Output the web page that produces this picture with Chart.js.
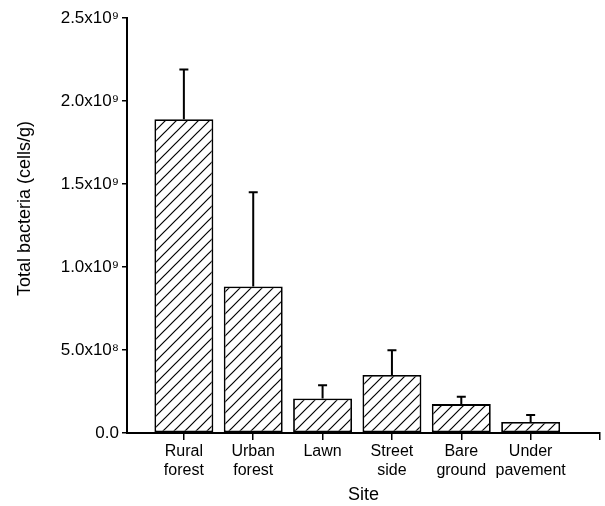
<!DOCTYPE html>
<html>
<head>
<title>Total bacteria by site</title>
<script src="https://cdn.jsdelivr.net/npm/chart.js"></script>
<style>
    body { margin: 0; background: #fff; }
</style>
</head>
<body>
<canvas id="chart" width="605" height="506"></canvas>
<script>
const sites = [['Rural', 'forest'], ['Urban', 'forest'], ['Lawn'], ['Street', 'side'], ['Bare', 'ground'], ['Under', 'pavement']];
const sitePositions = [1, 2, 3, 4, 5, 6];
const bacteria = [1.89e9, 0.883e9, 0.208e9, 0.349e9, 0.174e9, 0.066e9];
const errors = [0.30e9, 0.567e9, 0.080e9, 0.150e9, 0.044e9, 0.042e9];
const yTicks = [0, 5e8, 1e9, 1.5e9, 2e9, 2.5e9];
const yTickLabels = ['0.0', '5.0x10⁸', '1.0x10⁹', '1.5x10⁹', '2.0x10⁹', '2.5x10⁹'];
const xTicks = [1, 2, 3, 4, 5, 6, 7];
const yTitle = 'Total bacteria (cells/g)';

const FONT = 'Liberation Sans, Arial, Helvetica, sans-serif';

// diagonal hatching like the printed figure
function hatchPattern() {
    const s = 11;
    const c = document.createElement('canvas');
    c.width = s; c.height = s;
    const g = c.getContext('2d');
    g.fillStyle = '#fff';
    g.fillRect(0, 0, s, s);
    g.strokeStyle = '#000';
    g.lineWidth = 1.2;
    g.beginPath();
    g.moveTo(0, s); g.lineTo(s, 0);
    g.moveTo(-2, 2); g.lineTo(2, -2);
    g.moveTo(s - 2, s + 2); g.lineTo(s + 2, s - 2);
    g.stroke();
    return g.createPattern(c, 'repeat');
}

const errorBars = {
    id: 'errorBars',
    afterDatasetsDraw(chart) {
        const { ctx, scales: { y } } = chart;
        const meta = chart.getDatasetMeta(0);
        ctx.save();
        ctx.strokeStyle = '#000';
        ctx.lineWidth = 2;
        meta.data.forEach((bar, i) => {
            const px = bar.x;
            const y0 = y.getPixelForValue(bacteria[i]);
            const y1 = y.getPixelForValue(bacteria[i] + errors[i]);
            ctx.beginPath();
            ctx.moveTo(px, y0);
            ctx.lineTo(px, y1);
            ctx.moveTo(px - 4.5, y1);
            ctx.lineTo(px + 4.5, y1);
            ctx.stroke();
        });
        ctx.restore();
    }
};

// the printed y title sits a bit above the middle of the axis
const yAxisTitle = {
    id: 'yAxisTitle',
    afterDraw(chart) {
        const { ctx, chartArea } = chart;
        ctx.save();
        ctx.translate(25, (chartArea.top + chartArea.bottom) / 2 - 17);
        ctx.rotate(-Math.PI / 2);
        ctx.font = '18px ' + FONT;
        ctx.fillStyle = '#000';
        ctx.textAlign = 'center';
        ctx.textBaseline = 'middle';
        ctx.fillText(yTitle, 0, 0);
        ctx.restore();
    }
};

new Chart(document.getElementById('chart'), {
    type: 'bar',
    data: {
        datasets: [{
            data: sitePositions.map((p, i) => ({ x: p, y: bacteria[i] })),
            backgroundColor: hatchPattern(),
            borderColor: '#000',
            borderWidth: 1.8,
            borderSkipped: false,
            barPercentage: 0.85,
            categoryPercentage: 1
        }]
    },
    options: {
        responsive: false,
        animation: false,
        devicePixelRatio: 1,
        layout: { padding: { top: 18, right: 5, left: 0, bottom: 0 } },
        plugins: { legend: { display: false }, tooltip: { enabled: false } },
        scales: {
            x: {
                type: 'linear',
                min: 0.18,
                max: 7,
                offset: false,
                afterBuildTicks: s => { s.ticks = xTicks.map(v => ({ value: v })); },
                afterFit: s => { s.height = 73; },
                ticks: {
                    autoSkip: false,
                    maxRotation: 0,
                    color: '#000',
                    padding: 2,
                    font: { family: FONT, size: 16 },
                    callback: v => sites[sitePositions.indexOf(v)] || ''
                },
                grid: { offset: false, drawOnChartArea: false, tickLength: 7, color: '#000', lineWidth: 1.5 },
                border: { color: '#000', width: 2 },
                title: {
                    display: true, text: 'Site', color: '#000',
                    font: { family: FONT, size: 18 },
                    padding: { top: 4, bottom: 0 }
                }
            },
            y: {
                min: 0,
                max: 2.5e9,
                afterBuildTicks: s => { s.ticks = yTicks.map(v => ({ value: v })); },
                afterFit: s => { s.width = 127; },
                ticks: {
                    color: '#000',
                    padding: 3,
                    font: { family: FONT, size: 17 },
                    callback: (v, i) => yTickLabels[i]
                },
                grid: { drawOnChartArea: false, tickLength: 5, color: '#000', lineWidth: 1.5 },
                border: { color: '#000', width: 2 }
            }
        }
    },
    plugins: [errorBars, yAxisTitle]
});
</script>
</body>
</html>
